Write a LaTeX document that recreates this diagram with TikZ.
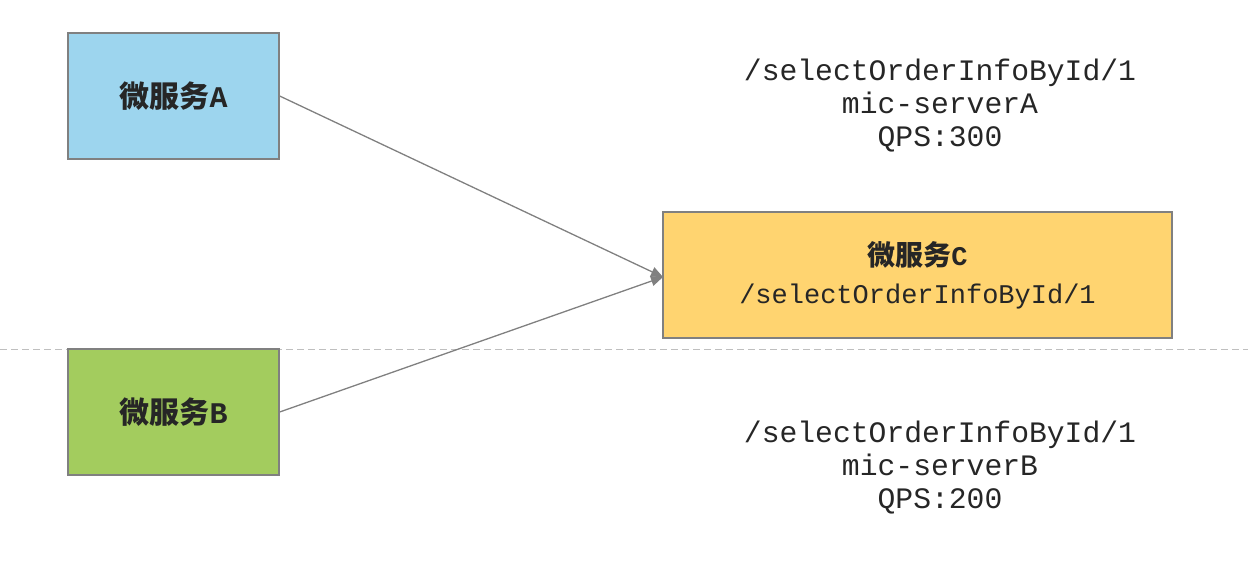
\documentclass[tikz,border=0pt]{standalone}
\usepackage{fontspec}
\setmainfont{Liberation Mono}
\newfontfamily\cjk{Noto Sans CJK SC}
\usetikzlibrary{arrows.meta}
\definecolor{boxA}{HTML}{9DD5EE}
\definecolor{boxB}{HTML}{A3CC5E}
\definecolor{boxC}{HTML}{FFD470}
\definecolor{edgegray}{HTML}{808080}
\definecolor{txt}{HTML}{262626}
\tikzset{
  svc/.style={draw=edgegray, line width=1.3pt, inner sep=0pt, align=center, text=txt},
  conn/.style={draw=edgegray, line width=1.3pt, -{Triangle[length=12pt,width=10pt]}},
  info/.style={align=center, text=txt, font=\fontsize{29.7}{33}\selectfont},
  sep/.style={draw=gray!50, line width=1pt, dash pattern=on 7pt off 4pt}
}
\begin{document}
\begin{tikzpicture}[x=1pt,y=-1pt]
\useasboundingbox (0,0) rectangle (1248,568);
\coordinate (L) at (0,349);
\coordinate (R) at (1248,349);
\draw[sep] (L) -- (R);
\node[svc, fill=boxA, minimum width=211pt, minimum height=126pt, font=\fontsize{30}{36}\selectfont] (A) at (173.5,96) {{\cjk\bfseries 微服务}\textbf{A}};
\node[svc, fill=boxB, minimum width=211pt, minimum height=126pt, font=\fontsize{30}{36}\selectfont] (B) at (173.5,412) {{\cjk\bfseries 微服务}\textbf{B}};
\node[svc, fill=boxC, minimum width=509pt, minimum height=126pt, font=\fontsize{27}{38}\selectfont] (C) at (917.5,275) {{\cjk\bfseries\fontsize{28}{38}\selectfont 微服务}\textbf{C}\\/selectOrderInfoById/1};
\coordinate (T) at (663,277);
\draw[conn] (A.east) -- (T);
\draw[conn] (B.east) -- (T);
\node[info] (IA) at (940,106) {/selectOrderInfoById/1\\mic-serverA\\QPS:300};
\node[info] (IB) at (940,468) {/selectOrderInfoById/1\\mic-serverB\\QPS:200};
\end{tikzpicture}
\end{document}
